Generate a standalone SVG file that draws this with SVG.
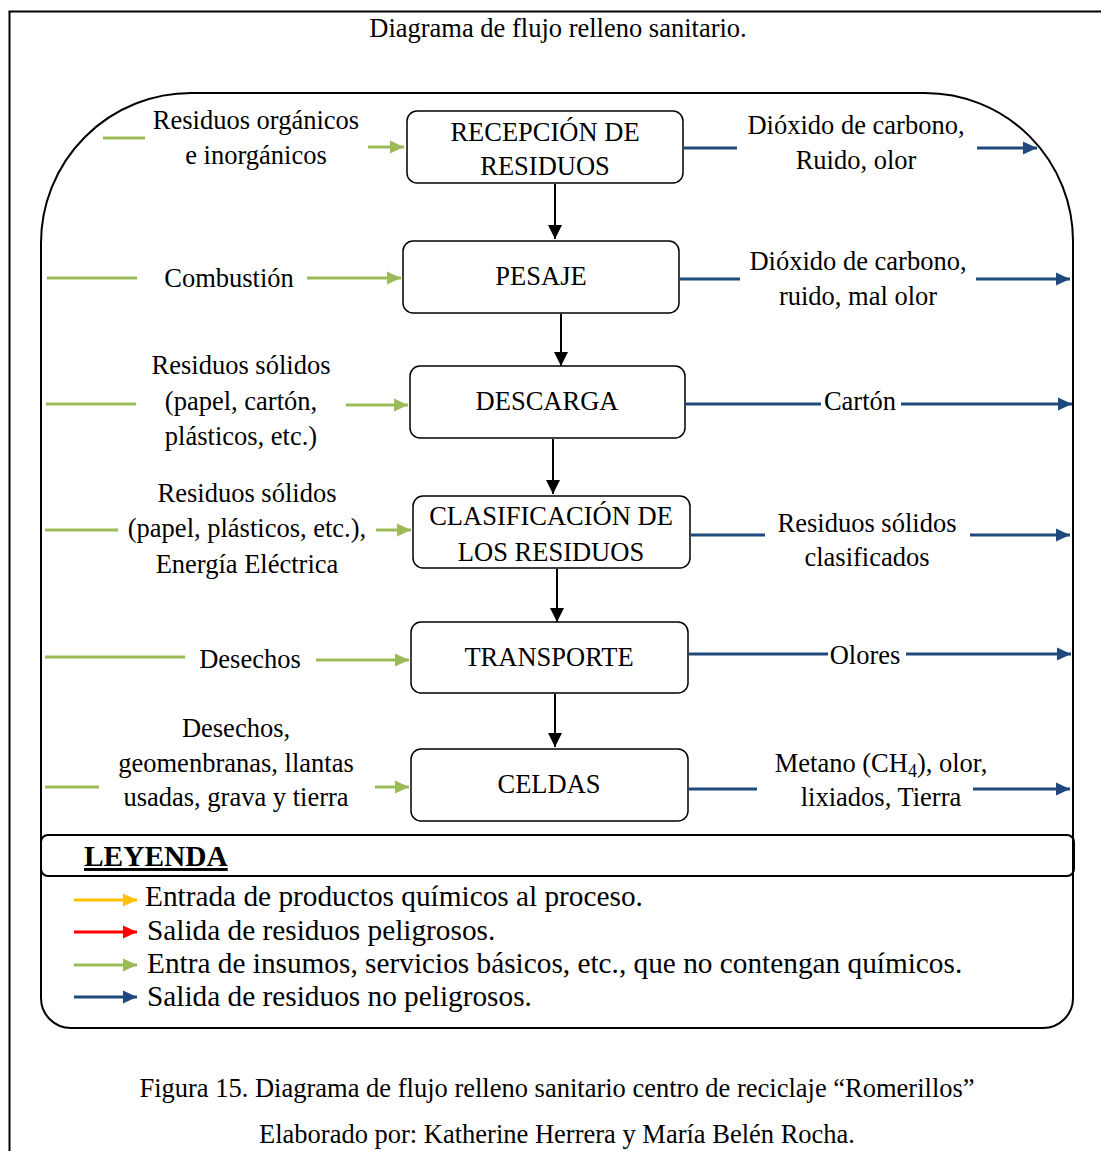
<svg xmlns="http://www.w3.org/2000/svg" width="1101" height="1151" viewBox="0 0 1101 1151">
  <style>
    text { font-family: "Liberation Serif", "Times New Roman", serif; font-size: 26.5px; fill: #000; }
    .c { text-anchor: middle; }
    .leg { font-size: 29.3px; }
    .title { font-size: 29.4px; font-weight: bold; text-decoration: underline; }
    .cap { font-size: 26.5px; }
    .node rect { fill: #fff; stroke: #000; stroke-width: 1.5; }
    .flow { stroke: #000; stroke-width: 2; fill: none; }
    .in { stroke: #9BBB59; stroke-width: 3; fill: none; }
    .out { stroke: #1F497D; stroke-width: 3; fill: none; }
    .frame { fill: none; stroke: #000; stroke-width: 2; }
  </style>
  <defs>
    <marker id="mBlack" markerUnits="userSpaceOnUse" markerWidth="16" markerHeight="16" refX="14" refY="8" orient="auto">
      <path d="M0,1 L14,8 L0,15 Z" fill="#000"/>
    </marker>
    <marker id="mGreen" markerUnits="userSpaceOnUse" markerWidth="15" markerHeight="15" refX="14" refY="7.5" orient="auto">
      <path d="M0,1 L14,7.5 L0,14 Z" fill="#9BBB59"/>
    </marker>
    <marker id="mBlue" markerUnits="userSpaceOnUse" markerWidth="15" markerHeight="15" refX="14" refY="7.5" orient="auto">
      <path d="M0,1 L14,7.5 L0,14 Z" fill="#1F497D"/>
    </marker>
    <marker id="mYellow" markerUnits="userSpaceOnUse" markerWidth="15" markerHeight="15" refX="14" refY="7.5" orient="auto">
      <path d="M0,1 L14,7.5 L0,14 Z" fill="#FFC000"/>
    </marker>
    <marker id="mRed" markerUnits="userSpaceOnUse" markerWidth="15" markerHeight="15" refX="14" refY="7.5" orient="auto">
      <path d="M0,1 L14,7.5 L0,14 Z" fill="#FF0000"/>
    </marker>
  </defs>

  <!-- page frame -->
  <rect class="frame" x="9.5" y="11.5" width="1100" height="1150"/>
  <text class="c" x="558" y="37">Diagrama de flujo relleno sanitario.</text>

  <!-- process boundary -->
  <path class="frame" d="M41,243 A150,150 0 0 1 191,93 L925,93 A148,148 0 0 1 1073,241 L1073,998 A30,30 0 0 1 1043,1028 L71,1028 A30,30 0 0 1 41,998 Z"/>

  <!-- process steps -->
  <g id="recepcion" class="node">
    <rect x="407" y="111" width="276" height="72" rx="10"/>
    <text class="c" x="545" y="141">RECEPCIÓN DE</text>
    <text class="c" x="545" y="175">RESIDUOS</text>
  </g>
  <g id="pesaje" class="node">
    <rect x="403" y="241" width="276" height="72" rx="10"/>
    <text class="c" x="541" y="285">PESAJE</text>
  </g>
  <g id="descarga" class="node">
    <rect x="410" y="366" width="275" height="72" rx="10"/>
    <text class="c" x="547" y="410">DESCARGA</text>
  </g>
  <g id="clasificacion" class="node">
    <rect x="413" y="496" width="277" height="72" rx="10"/>
    <text class="c" x="551" y="525">CLASIFICACIÓN DE</text>
    <text class="c" x="551" y="561">LOS RESIDUOS</text>
  </g>
  <g id="transporte" class="node">
    <rect x="411" y="622" width="277" height="71" rx="10"/>
    <text class="c" x="549" y="666">TRANSPORTE</text>
  </g>
  <g id="celdas" class="node">
    <rect x="411" y="749" width="277" height="72" rx="10"/>
    <text class="c" x="549" y="793">CELDAS</text>
  </g>

  <!-- inputs (left) -->
  <g id="inputs">
    <text class="c" x="256" y="129">Residuos orgánicos</text>
    <text class="c" x="256" y="164">e inorgánicos</text>
    <text class="c" x="229" y="287">Combustión</text>
    <text class="c" x="241" y="374">Residuos sólidos</text>
    <text class="c" x="241" y="410">(papel, cartón,</text>
    <text class="c" x="241" y="445">plásticos, etc.)</text>
    <text class="c" x="247" y="502">Residuos sólidos</text>
    <text class="c" x="247" y="537">(papel, plásticos, etc.),</text>
    <text class="c" x="247" y="573">Energía Eléctrica</text>
    <text class="c" x="250" y="668">Desechos</text>
    <text class="c" x="236" y="737">Desechos,</text>
    <text class="c" x="236" y="772">geomenbranas, llantas</text>
    <text class="c" x="236" y="806">usadas, grava y tierra</text>
  </g>

  <!-- outputs (right) -->
  <g id="outputs">
    <text class="c" x="856" y="134">Dióxido de carbono,</text>
    <text class="c" x="856" y="169">Ruido, olor</text>
    <text class="c" x="858" y="270">Dióxido de carbono,</text>
    <text class="c" x="858" y="305">ruido, mal olor</text>
    <text class="c" x="860" y="410">Cartón</text>
    <text class="c" x="867" y="532">Residuos sólidos</text>
    <text class="c" x="867" y="566">clasificados</text>
    <text class="c" x="865" y="664">Olores</text>
    <text class="c" x="881" y="772">Metano (CH<tspan dy="5" font-size="18">4</tspan><tspan dy="-5">), olor,</tspan></text>
    <text class="c" x="881" y="806">lixiados, Tierra</text>
  </g>

  <!-- connectors -->
  <g id="connectors">
    <!-- main flow -->
    <line class="flow" x1="555" y1="184" x2="555" y2="239" marker-end="url(#mBlack)"/>
    <line class="flow" x1="561" y1="314" x2="561" y2="366" marker-end="url(#mBlack)"/>
    <line class="flow" x1="553" y1="439" x2="553" y2="494" marker-end="url(#mBlack)"/>
    <line class="flow" x1="557" y1="569" x2="557" y2="622" marker-end="url(#mBlack)"/>
    <line class="flow" x1="555" y1="694" x2="555" y2="747" marker-end="url(#mBlack)"/>

    <!-- green inputs -->
    <line class="in" x1="103" y1="138" x2="145" y2="138"/>
    <line class="in" x1="368" y1="147" x2="404" y2="147" marker-end="url(#mGreen)"/>
    <line class="in" x1="47" y1="278" x2="137" y2="278"/>
    <line class="in" x1="307" y1="278" x2="401" y2="278" marker-end="url(#mGreen)"/>
    <line class="in" x1="46" y1="404" x2="136" y2="404"/>
    <line class="in" x1="346" y1="405" x2="408" y2="405" marker-end="url(#mGreen)"/>
    <line class="in" x1="45" y1="530" x2="118" y2="530"/>
    <line class="in" x1="376" y1="530" x2="411" y2="530" marker-end="url(#mGreen)"/>
    <line class="in" x1="45" y1="657" x2="185" y2="657"/>
    <line class="in" x1="316" y1="660" x2="409" y2="660" marker-end="url(#mGreen)"/>
    <line class="in" x1="45" y1="787" x2="99" y2="787"/>
    <line class="in" x1="375" y1="787" x2="409" y2="787" marker-end="url(#mGreen)"/>

    <!-- blue outputs -->
    <line class="out" x1="684" y1="148" x2="737" y2="148"/>
    <line class="out" x1="977" y1="148" x2="1037" y2="148" marker-end="url(#mBlue)"/>
    <line class="out" x1="680" y1="279" x2="740" y2="279"/>
    <line class="out" x1="976" y1="279" x2="1070" y2="279" marker-end="url(#mBlue)"/>
    <line class="out" x1="686" y1="404" x2="821" y2="404"/>
    <line class="out" x1="901" y1="404" x2="1072" y2="404" marker-end="url(#mBlue)"/>
    <line class="out" x1="691" y1="535" x2="765" y2="535"/>
    <line class="out" x1="970" y1="535" x2="1070" y2="535" marker-end="url(#mBlue)"/>
    <line class="out" x1="689" y1="654" x2="828" y2="654"/>
    <line class="out" x1="906" y1="654" x2="1071" y2="654" marker-end="url(#mBlue)"/>
    <line class="out" x1="689" y1="789" x2="757" y2="789"/>
    <line class="out" x1="973" y1="789" x2="1070" y2="789" marker-end="url(#mBlue)"/>
  </g>

  <!-- legend -->
  <g id="leyenda">
    <rect class="frame" x="41" y="835" width="1033" height="41" rx="7"/>
    <text class="title" x="84" y="866">LEYENDA</text>
    <line x1="74" y1="900" x2="137" y2="900" stroke="#FFC000" stroke-width="3" marker-end="url(#mYellow)"/>
    <text class="leg" x="145" y="906">Entrada de productos químicos al proceso.</text>
    <line x1="74" y1="932" x2="137" y2="932" stroke="#FF0000" stroke-width="3" marker-end="url(#mRed)"/>
    <text class="leg" x="147" y="940">Salida de residuos peligrosos.</text>
    <line x1="74" y1="965" x2="137" y2="965" stroke="#9BBB59" stroke-width="3" marker-end="url(#mGreen)"/>
    <text class="leg" x="147" y="973">Entra de insumos, servicios básicos, etc., que no contengan químicos.</text>
    <line x1="74" y1="997" x2="137" y2="997" stroke="#1F497D" stroke-width="3" marker-end="url(#mBlue)"/>
    <text class="leg" x="147" y="1006">Salida de residuos no peligrosos.</text>
  </g>

  <!-- caption -->
  <text class="c cap" x="557" y="1097">Figura 15. Diagrama de flujo relleno sanitario centro de reciclaje “Romerillos”</text>
  <text class="c cap" x="557" y="1143">Elaborado por: Katherine Herrera y María Belén Rocha.</text>
</svg>
